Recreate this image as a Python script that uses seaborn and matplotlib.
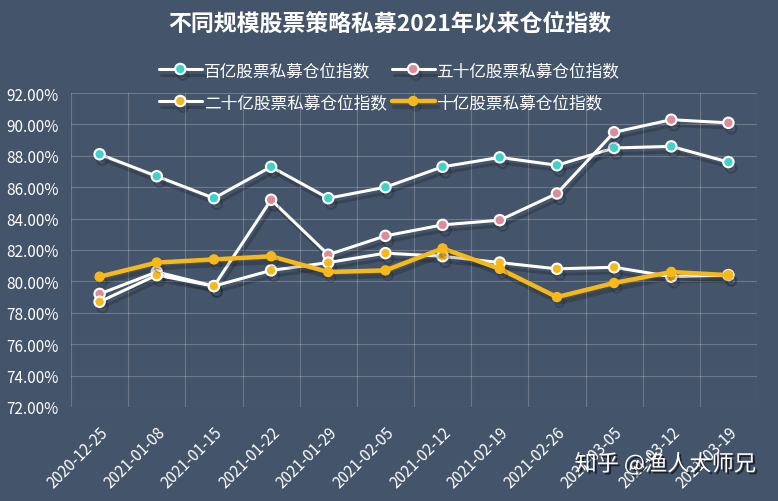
import matplotlib
matplotlib.use("Agg")
import matplotlib.pyplot as plt
import matplotlib.patheffects as pe
import matplotlib.ticker as ticker
import numpy as np
import pandas as pd
import seaborn as sns

dates = ["2020-12-25", "2021-01-08", "2021-01-15", "2021-01-22", "2021-01-29", "2021-02-05",
         "2021-02-12", "2021-02-19", "2021-02-26", "2021-03-05", "2021-03-12", "2021-03-19"]
bai_yi = [88.1, 86.7, 85.3, 87.3, 85.3, 86.0, 87.3, 87.9, 87.4, 88.5, 88.6, 87.6]
wushi_yi = [79.2, 80.6, 79.7, 85.2, 81.7, 82.9, 83.6, 83.9, 85.6, 89.5, 90.3, 90.1]
ershi_yi = [78.7, 80.4, 79.7, 80.7, 81.2, 81.8, 81.6, 81.2, 80.8, 80.9, 80.3, 80.4]
shi_yi = [80.3, 81.2, 81.4, 81.6, 80.6, 80.7, 82.1, 80.8, 79.0, 79.9, 80.6, 80.4]
names = ["百亿股票私募仓位指数", "五十亿股票私募仓位指数", "二十亿股票私募仓位指数", "十亿股票私募仓位指数"]
yticks = [72, 74, 76, 78, 80, 82, 84, 86, 88, 90, 92]

bg = "#44546A"
sns.set_theme(style="dark")
plt.rcParams["font.family"] = ["Noto Sans CJK SC", "DejaVu Sans"]

fig = plt.figure(figsize=(7.78, 5.02), dpi=100, facecolor=bg)
ax = fig.add_axes([0.0913, 0.1873, 0.8817, 0.6254])
ax.set_facecolor(bg)

shadow = [pe.SimpleLineShadow(offset=(2, -4), shadow_color="black", alpha=0.18), pe.Normal()]

styles = [
    dict(color="white", lw=2.2, marker="o", ms=7.5, mfc="#3DD3CB", mec="white", mew=1.5),
    dict(color="white", lw=2.2, marker="o", ms=7.5, mfc="#DC8C98", mec="white", mew=1.5),
    dict(color="white", lw=2.2, marker="o", ms=7.5, mfc="#F7B81A", mec="white", mew=1.5),
    dict(color="#F7B81A", lw=3.2, marker="o", ms=6.5, mfc="#F7B81A", mec="#F7B81A", mew=1),
]
series = [bai_yi, wushi_yi, ershi_yi, shi_yi]
for name, vals, st in zip(names, series, styles):
    df = pd.DataFrame({"date": dates, "value": vals})
    sns.lineplot(data=df, x="date", y="value", ax=ax, sort=False, label=name,
                 path_effects=shadow, **st)
ax.get_legend().remove()
handles, labels = ax.get_legend_handles_labels()

ax.set_xlim(-0.5, len(dates) - 0.5)
ax.set_ylim(72, 92)
ax.set_yticks(yticks)
ax.yaxis.set_major_formatter(ticker.FuncFormatter(lambda v, p: f"{v:.2f}%"))
ax.set_xticks(range(len(dates)))
ax.set_xticklabels(dates, rotation=45, ha="right", rotation_mode="anchor")
ax.xaxis.set_minor_locator(ticker.FixedLocator(np.arange(-0.5, len(dates), 1)))
ax.grid(False)
ax.grid(axis="y", which="major", color="white", alpha=0.22, lw=0.8)
ax.grid(axis="x", which="minor", color="white", alpha=0.22, lw=0.8)
for s in ax.spines.values():
    s.set_visible(False)
ax.tick_params(axis="both", which="both", length=0, colors="white")
ax.tick_params(axis="y", pad=9, labelsize=11)
ax.tick_params(axis="x", pad=12, labelsize=11)
ax.set_xlabel("")
ax.set_ylabel("")

order = [0, 2, 1, 3]
leg = fig.legend([handles[i] for i in order], [labels[i] for i in order], loc="center",
                 bbox_to_anchor=(0.5, 0.826), ncol=2, frameon=False, fontsize=12,
                 labelcolor="white", handlelength=2.6, handletextpad=0.1,
                 columnspacing=0.3, labelspacing=0.9)

fig.text(0.501, 0.952, "不同规模股票策略私募2021年以来仓位指数", ha="center", va="center",
         color="white", fontsize=16.5, fontweight="bold")
fig.text(0.972, 0.074, "知乎 @渔人大师兄", ha="right", va="center", color="white", fontsize=16,
         path_effects=[pe.withSimplePatchShadow(offset=(1.5, -1.5), shadow_rgbFace="black", alpha=0.6)])

fig.savefig("out.png", dpi=100, facecolor=bg)
